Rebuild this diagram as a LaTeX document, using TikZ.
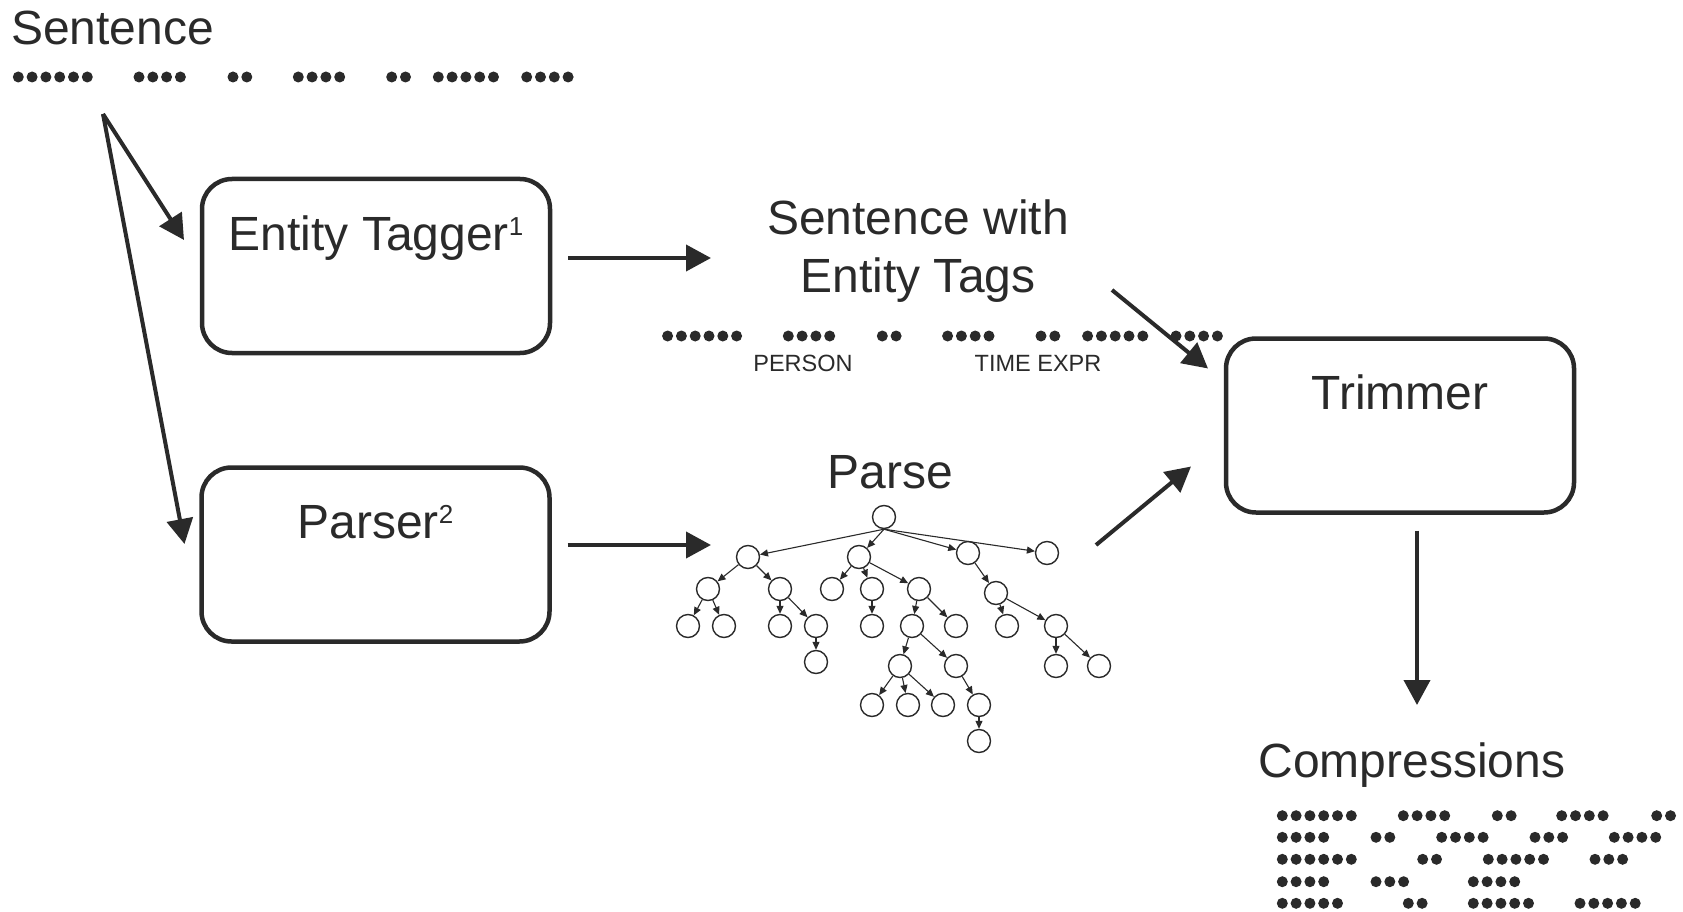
\documentclass[tikz,border=0pt]{standalone}
\usepackage{fontspec}
\setmainfont{Liberation Sans}
\usetikzlibrary{arrows.meta,calc}
\definecolor{ink}{HTML}{2A2A2A}
\newcommand{\bigtext}{\fontsize{48}{58}\selectfont}
\newcommand{\smalltext}{\fontsize{23.5}{28}\selectfont}
\newcommand{\supnum}[1]{\raisebox{15pt}{\fontsize{26}{26}\selectfont #1}}
\newcommand{\dotrun}[3]{\foreach \k in {1,...,#3} \fill[ink] ({#1+(\k-1)*13.8},#2) circle (5.5);}
\newcommand{\wordrow}[2]{\foreach \dx/\n in {0/6,120.7/4,214.7/2,280/4,373.4/2,420/5,508.4/4} {\dotrun{#1+\dx}{#2}{\n}}}
\tikzstyle{module} = [rectangle, draw=ink, line width=4.5pt, rounded corners=30pt, inner sep=0pt, outer sep=0pt, minimum width=348pt, text height=71pt, text depth=103pt, text=ink, font=\bigtext]
\tikzstyle{caption} = [inner sep=0pt, anchor=base, text=ink, font=\bigtext]
\tikzstyle{tag} = [inner sep=0pt, anchor=base, text=ink, font=\smalltext]
\tikzstyle{flow} = [draw=ink, line width=4pt, -{Triangle[length=25pt,width=26pt]}]
\tikzstyle{tnode} = [circle, draw=ink, line width=1.4pt, minimum size=23pt, inner sep=0pt]
\tikzstyle{tedge} = [draw=ink, line width=1.1pt, -{Triangle[length=8pt,width=7pt]}]

\begin{document}
\begin{tikzpicture}[x=1pt,y=-1pt]
    \useasboundingbox (0,0) rectangle (1683,912);

    \node (sent) [caption, anchor=base west] at (11,45) {Sentence};
    \wordrow{18.3}{77}

    \node (tagger) [module] at (376,266) {Entity Tagger\supnum{1}};
    \node (parser) [module] at (375.5,554.5) {Parser\supnum{2}};
    \node (trimmer) [module] at (1400,425.5) {Trimmer};

    \node (tagged) [caption, align=center] at (918,292) {Sentence with\\Entity Tags};
    \wordrow{667.6}{336}
    \node (person) [tag] at (803,371) {PERSON};
    \node (timex) [tag] at (1038,371) {TIME EXPR};

    \node (parse) [caption] at (890,488) {Parse};

    \node (compr) [caption] at (1412,777) {Compressions};
    \dotrun{1282.3}{815.7}{6} \dotrun{1403.3}{815.7}{4} \dotrun{1497.3}{815.7}{2} \dotrun{1561.7}{815.7}{4} \dotrun{1656.7}{815.7}{2}
    \dotrun{1282.3}{837.3}{4} \dotrun{1376}{837.3}{2} \dotrun{1441.7}{837.3}{4} \dotrun{1535}{837.3}{3} \dotrun{1614.3}{837.3}{4}
    \dotrun{1282.3}{859.3}{6} \dotrun{1422.7}{859.3}{2} \dotrun{1488.3}{859.3}{5} \dotrun{1595}{859.3}{3}
    \dotrun{1282.3}{881.7}{4} \dotrun{1376}{881.7}{3} \dotrun{1473.3}{881.7}{4}
    \dotrun{1282.3}{903.3}{5} \dotrun{1408.3}{903.3}{2} \dotrun{1473.3}{903.3}{5} \dotrun{1580}{903.3}{5}

    \node (R) [tnode] at (884,517) {};
    \node (A) [tnode] at (748,557) {};
    \node (B) [tnode] at (859,557) {};
    \node (C) [tnode] at (968,553) {};
    \node (D) [tnode] at (1047,553) {};
    \node (A1) [tnode] at (708,589) {};
    \node (A2) [tnode] at (780,589) {};
    \node (B1) [tnode] at (832,589) {};
    \node (B2) [tnode] at (872,589) {};
    \node (B3) [tnode] at (919,589) {};
    \node (C1) [tnode] at (996,593) {};
    \node (A11) [tnode] at (688,626) {};
    \node (A12) [tnode] at (724,626) {};
    \node (A21) [tnode] at (780,626) {};
    \node (A22) [tnode] at (816,626) {};
    \node (B21) [tnode] at (872,626) {};
    \node (B31) [tnode] at (912,626) {};
    \node (B32) [tnode] at (956,626) {};
    \node (C11) [tnode] at (1007,626) {};
    \node (C12) [tnode] at (1056,626) {};
    \node (A221) [tnode] at (816,662) {};
    \node (B311) [tnode] at (900,666) {};
    \node (B312) [tnode] at (956,666) {};
    \node (C121) [tnode] at (1056,666) {};
    \node (C122) [tnode] at (1099,666) {};
    \node (B3111) [tnode] at (872,705) {};
    \node (B3112) [tnode] at (908,705) {};
    \node (B3113) [tnode] at (943,705) {};
    \node (B3121) [tnode] at (979,705) {};
    \node (B31211) [tnode] at (979,741) {};

    \foreach \p/\c in {R.south/A,R.south/B,R.south/C,R.south/D,A/A1,A/A2,B/B1,B/B2,B/B3,C/C1,
        A1/A11,A1/A12,A2/A21,A2/A22,B2/B21,B3/B31,B3/B32,C1/C11,C1/C12,
        A22/A221,B31/B311,B31/B312,C12/C121,C12/C122,
        B311/B3111,B311/B3112,B311/B3113,B312/B3121,B3121/B31211}
        \draw[tedge] (\p) -- (\c);

    \coordinate (split) at (103,114);
    \coordinate (tagend) at (711,258);
    \coordinate (parseend) at (711,545);
    \coordinate (tagstart) at (1112,290);
    \coordinate (treestart) at (1096,545);
    \coordinate (comprend) at (1417,705);

    \draw[flow] (split) -- ($(tagger.west)+(-18,-26)$);
    \draw[flow] (split) -- ($(parser.west)+(-17,-10.5)$);
    \draw[flow] ($(tagger.east)+(18,-8)$) -- (tagend);
    \draw[flow] ($(parser.east)+(18,-9.5)$) -- (parseend);
    \draw[flow] (tagstart) -- ($(trimmer.north west)+(-18,30)$);
    \draw[flow] (treestart) -- ($(trimmer.north west)+(-35,128)$);
    \draw[flow] ($(trimmer.south)+(17,18)$) -- (comprend);

\end{tikzpicture}
\end{document}
